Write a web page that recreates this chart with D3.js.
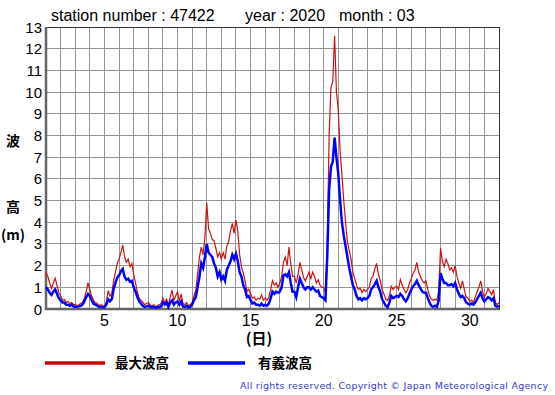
<!DOCTYPE html>
<html lang="ja">
<head>
<meta charset="UTF-8">
<title>Wave height 47422 2020-03</title>
<script src="https://d3js.org/d3.v7.min.js"></script>
<style>
  body { margin: 0; background: #fff; }
  svg { display: block; }
  .num { font-family: "Liberation Sans", Arial, sans-serif; fill: #000; }
  .jp { font-family: "Noto Sans CJK JP", sans-serif; font-weight: bold; fill: #000; }
</style>
</head>
<body>
<div id="chart"></div>
<script>
const width = 555, height = 395;

// values every 3 hours, day 1 00h .. day 32 00h (8 per day)
const maxWave = [
  1.7, 1.5, 1.2, 0.95, 1.2, 1.42, 1.1, 0.75,
  0.6, 0.4, 0.45, 0.3, 0.35, 0.25, 0.3, 0.2,
  0.2, 0.15, 0.2, 0.25, 0.3, 0.5, 0.8, 1.2,
  0.9, 0.6, 0.4, 0.3, 0.25, 0.15, 0.2, 0.15,
  0.15, 0.3, 0.85, 0.6, 0.7, 1.3, 1.7, 2.1,
  2.3, 2.6, 2.95, 2.4, 2.15, 2.3, 1.95, 2.1,
  1.6, 1.2, 0.8, 0.5, 0.4, 0.3, 0.2, 0.25,
  0.3, 0.2, 0.15, 0.2, 0.1, 0.15, 0.2, 0.25,
  0.5, 0.3, 0.45, 0.2, 0.55, 0.87, 0.4, 0.6,
  0.8, 0.35, 0.7, 0.25, 0.2, 0.3, 0.15, 0.2,
  0.3, 0.6, 0.87, 1.6, 2.4, 2.85, 2.5, 3.3,
  4.9, 3.7, 3.5, 3.2, 3.15, 2.8, 2.4, 2.6,
  2.3, 2.6, 2.3, 2.9, 3.1, 3.6, 3.95, 3.5,
  4.1, 3.6, 2.5, 1.95, 1.65, 1.3, 0.8, 0.9,
  0.7, 0.5, 0.55, 0.4, 0.5, 0.45, 0.65, 0.4,
  0.5, 0.4, 0.55, 0.9, 1.3, 1.1, 1.2, 1.0,
  1.2, 1.5, 2.15, 2.4, 2.0, 2.85, 2.1, 1.5,
  1.5, 1.2, 1.6, 2.15, 1.8, 1.45, 1.3, 1.5,
  1.7, 1.4, 1.7, 1.5, 1.2, 1.35, 1.1, 1.0,
  1.0, 0.75, 3.0, 8.0, 10.2, 10.5, 12.6, 10.0,
  9.2, 7.3, 6.2, 5.0, 4.0, 3.1, 2.7, 2.3,
  1.7, 1.4, 1.1, 0.9, 0.95, 0.75, 0.9, 0.8,
  0.9, 1.0, 1.4, 1.5, 1.85, 2.1, 1.6, 1.3,
  0.9, 0.7, 0.45, 0.4, 0.6, 1.05, 0.9, 1.0,
  1.05, 0.9, 1.35, 1.1, 0.9, 0.75, 0.9, 1.2,
  1.4, 1.65, 1.8, 2.15, 1.7, 1.5, 1.3, 1.2,
  1.3, 0.9, 0.6, 0.45, 0.4, 0.45, 0.4, 0.85,
  2.8, 2.2, 1.95, 2.3, 2.1, 1.8, 1.9, 1.7,
  2.0, 1.5, 1.2, 0.95, 1.3, 0.9, 0.55, 0.5,
  0.35, 0.4, 0.3, 0.55, 0.8, 1.0, 1.3, 0.8,
  0.55, 0.7, 0.95, 0.8, 0.65, 0.9, 0.3, 0.2,
  0.3
];

const sigWave = [
  1.0, 0.9, 0.75, 0.65, 0.8, 0.9, 0.7, 0.5,
  0.4, 0.3, 0.3, 0.2, 0.2, 0.15, 0.2, 0.12,
  0.1, 0.1, 0.12, 0.15, 0.2, 0.35, 0.55, 0.7,
  0.6, 0.4, 0.25, 0.2, 0.15, 0.1, 0.1, 0.08,
  0.08, 0.2, 0.45, 0.35, 0.45, 0.9, 1.2, 1.45,
  1.55, 1.75, 1.85, 1.5, 1.35, 1.4, 1.25, 1.3,
  1.0, 0.8, 0.55, 0.35, 0.25, 0.15, 0.1, 0.12,
  0.15, 0.1, 0.08, 0.1, 0.05, 0.08, 0.1, 0.12,
  0.3, 0.2, 0.3, 0.1, 0.3, 0.4, 0.2, 0.3,
  0.35, 0.2, 0.35, 0.12, 0.1, 0.15, 0.08, 0.1,
  0.2, 0.4, 0.55, 1.0, 1.5, 2.1, 1.9, 2.4,
  3.0, 2.6, 2.5, 2.4, 2.1, 1.9, 1.5, 1.7,
  1.35, 1.5, 1.3, 1.8, 2.0, 2.2, 2.5, 2.3,
  2.55, 2.2, 1.7, 1.5, 1.1, 0.9, 0.55, 0.6,
  0.4, 0.25, 0.3, 0.2, 0.2, 0.15, 0.25, 0.15,
  0.2, 0.15, 0.25, 0.5, 0.8, 0.7, 0.8, 0.75,
  0.8, 1.0, 1.55, 1.6, 1.5, 1.7, 1.2, 0.8,
  0.8, 0.55, 1.0, 1.4, 1.2, 1.0, 0.9, 1.0,
  1.0, 0.9, 1.0, 0.9, 0.8, 0.85, 0.6, 0.55,
  0.5, 0.4, 2.5, 5.5, 6.55, 6.8, 7.9, 7.0,
  6.25, 5.0, 4.0, 3.4, 2.9, 2.4, 1.9, 1.5,
  1.1, 0.9, 0.6, 0.45, 0.5, 0.4, 0.5, 0.45,
  0.5, 0.6, 0.9, 1.0, 1.15, 1.3, 1.0, 0.8,
  0.45, 0.3, 0.15, 0.08, 0.3, 0.6, 0.5, 0.55,
  0.6, 0.55, 0.7, 0.6, 0.45, 0.35, 0.5, 0.7,
  0.9, 1.05, 1.15, 1.3, 1.1, 0.95, 0.8, 0.75,
  0.75, 0.5, 0.3, 0.15, 0.1, 0.15, 0.1, 0.4,
  1.65, 1.4, 1.2, 1.2, 1.1, 1.1, 1.15, 1.05,
  1.2, 0.9, 0.7, 0.55, 0.6, 0.5, 0.3, 0.25,
  0.2, 0.25, 0.2, 0.3, 0.45, 0.6, 0.75, 0.5,
  0.35, 0.45, 0.55, 0.5, 0.4, 0.5, 0.15, 0.1,
  0.15
];

const yTicks = [0, 1, 2, 3, 4, 5, 6, 7, 8, 9, 10, 11, 12, 13];
const xTickLabels = [5, 10, 15, 20, 25, 30];
const dayGrid = d3.range(1, 33);

const svg = d3.select("#chart").append("svg")
  .attr("width", width)
  .attr("height", height);

const x = d3.scaleLinear().domain([1, 32]).range([46, 499]);
const y = d3.scaleLinear().domain([0, 13]).range([309, 27]);

// grid
svg.append("g").selectAll("line")
  .data(dayGrid)
  .join("line")
  .attr("x1", d => x(d)).attr("x2", d => x(d))
  .attr("y1", y(13)).attr("y2", y(0))
  .attr("stroke", "#959595").attr("stroke-width", 1)
  .attr("shape-rendering", "crispEdges");

svg.append("g").selectAll("line")
  .data(yTicks)
  .join("line")
  .attr("x1", x(1)).attr("x2", x(32))
  .attr("y1", d => y(d)).attr("y2", d => y(d))
  .attr("stroke", "#959595").attr("stroke-width", 1)
  .attr("shape-rendering", "crispEdges");

// frame
svg.append("rect")
  .attr("x", x(1)).attr("y", y(13))
  .attr("width", x(32) - x(1)).attr("height", y(0) - y(13))
  .attr("fill", "none").attr("stroke", "#333").attr("stroke-width", 1)
  .attr("shape-rendering", "crispEdges");

svg.append("path")
  .attr("d", `M${x(1)},${y(13)}V${y(0)}H${x(32)}`)
  .attr("fill", "none").attr("stroke", "#666").attr("stroke-width", 2.5);

// series
const line = d3.line()
  .x((d, i) => x(1 + i / 8))
  .y(d => y(d));

svg.append("path")
  .datum(maxWave)
  .attr("d", line)
  .attr("fill", "none")
  .attr("stroke", "#cc1111")
  .attr("stroke-width", 1.2);

svg.append("path")
  .datum(sigWave)
  .attr("d", line)
  .attr("fill", "none")
  .attr("stroke", "#0000ff")
  .attr("stroke-width", 2.5);

// y labels
svg.append("g").selectAll("text")
  .data(yTicks)
  .join("text")
  .attr("class", "num")
  .attr("x", 42)
  .attr("y", d => y(d) + 5.5)
  .attr("text-anchor", "end")
  .attr("font-size", 15)
  .text(d => d);

// x labels
svg.append("g").selectAll("text")
  .data(xTickLabels)
  .join("text")
  .attr("class", "num")
  .attr("x", d => x(d))
  .attr("y", 326)
  .attr("text-anchor", "middle")
  .attr("font-size", 16)
  .text(d => d);

svg.append("text")
  .attr("class", "jp")
  .attr("x", 259).attr("y", 344)
  .attr("text-anchor", "middle")
  .attr("font-size", 15)
  .text("(日)");

// y title
[["波", 146], ["高", 212], ["(m)", 240]].forEach(([t, ty]) => {
  svg.append("text")
    .attr("class", "jp")
    .attr("x", 13).attr("y", ty)
    .attr("text-anchor", "middle")
    .attr("font-size", 14)
    .text(t);
});

// title
[["station number : 47422", 51], ["year : 2020", 245], ["month : 03", 339]].forEach(([t, tx]) => {
  svg.append("text")
    .attr("class", "num")
    .attr("x", tx).attr("y", 21)
    .attr("font-size", 16)
    .text(t);
});

// legend
const legend = [
  { label: "最大波高", color: "#cc0000", x0: 45, x1: 105, tx: 115 },
  { label: "有義波高", color: "#0000ff", x0: 188, x1: 245, tx: 258 }
];
legend.forEach(l => {
  svg.append("line")
    .attr("x1", l.x0).attr("x2", l.x1)
    .attr("y1", 363).attr("y2", 363)
    .attr("stroke", l.color).attr("stroke-width", 3.5);
  svg.append("text")
    .attr("class", "jp")
    .attr("x", l.tx).attr("y", 368)
    .attr("font-size", 13.5)
    .text(l.label);
});

// footer
svg.append("text")
  .attr("x", 240).attr("y", 389)
  .attr("font-family", "'DejaVu Sans', sans-serif")
  .attr("font-size", 9.5)
  .attr("fill", "#3b3bd0")
  .attr("textLength", 308)
  .attr("lengthAdjust", "spacing")
  .text("All rights reserved. Copyright © Japan Meteorological Agency");
</script>
</body>
</html>
